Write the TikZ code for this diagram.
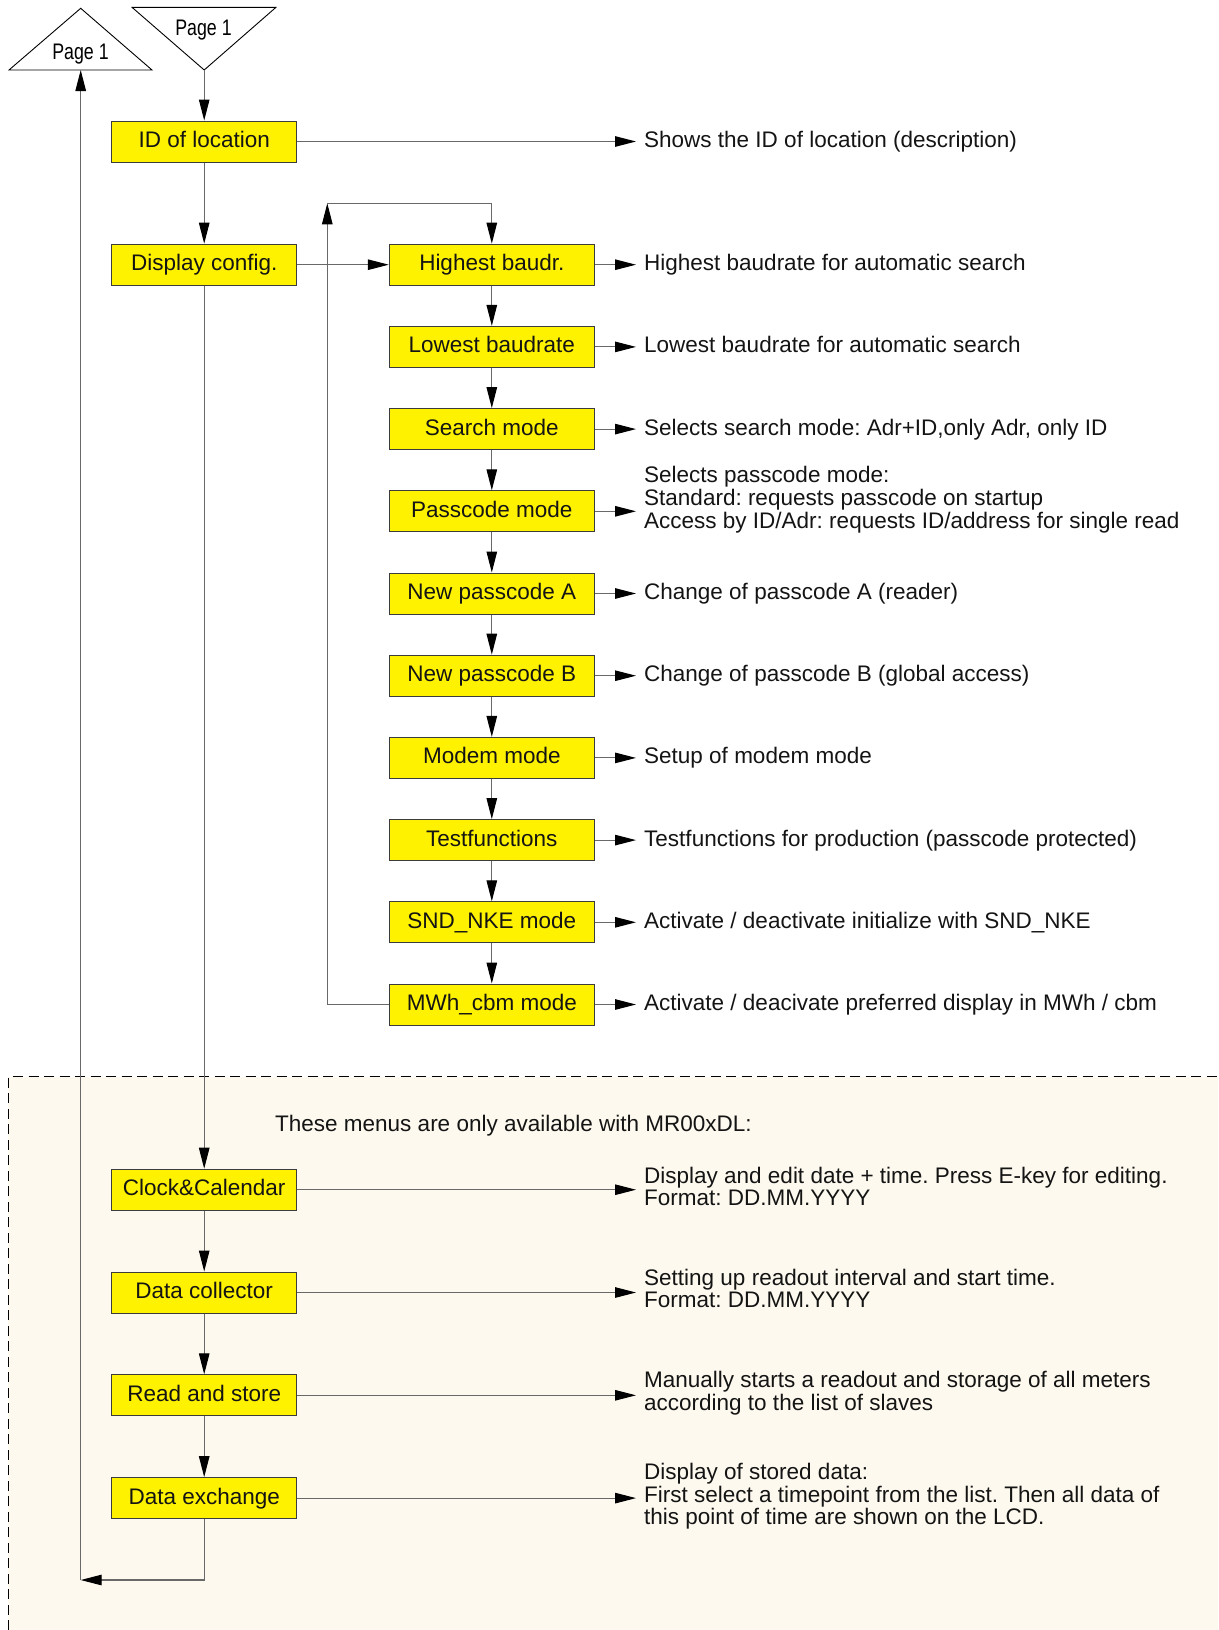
\documentclass[tikz,border=0pt]{standalone}
\usepackage{fontspec}
\setmainfont{Liberation Sans}
\usetikzlibrary{arrows.meta}
\definecolor{linegray}{RGB}{105,105,105}
\definecolor{boxline}{RGB}{60,60,60}
\definecolor{cream}{RGB}{253,249,238}
\definecolor{txt}{RGB}{20,20,20}
\frenchspacing
\newcommand{\mlines}[1]{\begin{tabular}[t]{@{}l@{}}#1\end{tabular}}
\begin{document}
\begin{tikzpicture}[x=1pt,y=-1pt,
  font=\fontsize{22.5}{21.7}\selectfont\frenchspacing,
  menubox/.style={draw=boxline,fill=yellow,line width=1pt,inner sep=0pt,minimum height=41pt,text=txt,text height=16.5pt,text depth=4.5pt},
  lbox/.style={menubox,minimum width=185pt},
  rbox/.style={menubox,minimum width=205pt},
  desc/.style={anchor=base west,inner xsep=8pt,inner ysep=0pt,text=txt},
  conn/.style={draw=linegray,line width=1.1pt},
  arr/.style={conn,-{Triangle[length=21pt,width=10.5pt,fill=black,color=black]}},
  pagetri/.style={draw=black,line width=0.9pt,fill=white}]
\useasboundingbox (0,0) rectangle (1218,1630);
% shaded region
\fill[cream] (8.3,1076.7) rectangle (1218,1630);
\draw[black,line width=1pt,dash pattern=on 10pt off 5.5pt] (8.3,1630) -- (8.3,1076.7) -- (1218,1076.7);
% page connectors
\draw[pagetri] (9,70) -- (80.7,8.3) -- (152,70) -- cycle;
\draw[pagetri] (132,7.3) -- (276,7.3) -- (204.2,70) -- cycle;
\node[anchor=base,inner sep=0pt] (pgL) at (80.5,59.3) {\scalebox{0.79}[1]{Page 1}};
\node[anchor=base,inner sep=0pt] (pgR) at (203.5,35) {\scalebox{0.79}[1]{Page 1}};
\coordinate (pgLbase) at (80.7,70);
\coordinate (pgRtip) at (204.2,70);
% left column
\node[lbox] (id) at (204.2,141.5) {ID of location};
\node[lbox] (dc) at (204.2,264.7) {Display config.};
\node[lbox] (cc) at (204.2,1189.7) {Clock\&Calendar};
\node[lbox] (dcol) at (204.2,1292.5) {Data collector};
\node[lbox] (rs) at (204.2,1395.3) {Read and store};
\node[lbox] (dx) at (204.2,1498.1) {Data exchange};
% right column
\node[rbox] (hb) at (491.8,264.7) {Highest baudr.};
\node[rbox] (lb) at (491.8,346.9) {Lowest baudrate};
\node[rbox] (sm) at (491.8,429.1) {Search mode};
\node[rbox] (pm) at (491.8,511.3) {Passcode mode};
\node[rbox] (pa) at (491.8,593.5) {New passcode A};
\node[rbox] (pb) at (491.8,675.7) {New passcode B};
\node[rbox] (mm) at (491.8,757.9) {Modem mode};
\node[rbox] (tf) at (491.8,840.1) {Testfunctions};
\node[rbox] (sn) at (491.8,922.3) {SND\_NKE mode};
\node[rbox] (mw) at (491.8,1004.5) {MWh\_cbm mode};
% descriptions
\node[desc] (did) at (636,147.2) {Shows the ID of location (description)};
\node[desc] (dhb) at (636,270.7) {Highest baudrate for automatic search};
\node[desc] (dlb) at (636,352.9) {Lowest baudrate for automatic search};
\node[desc] (dsm) at (636,435.1) {Selects search mode: Adr+ID,only Adr, only ID};
\node[desc] (dpm) at (636,482.7) {\mlines{Selects passcode mode:\\Standard: requests passcode on startup\\Access by ID/Adr: requests ID/address for single read}};
\node[desc] (dpa) at (636,599.5) {Change of passcode A (reader)};
\node[desc] (dpb) at (636,681.7) {Change of passcode B (global access)};
\node[desc] (dmm) at (636,763.9) {Setup of modem mode};
\node[desc] (dtf) at (636,846.1) {Testfunctions for production (passcode protected)};
\node[desc] (dsn) at (636,928.3) {Activate / deactivate initialize with SND\_NKE};
\node[desc] (dmw) at (636,1010.5) {Activate / deacivate preferred display in MWh / cbm};
\node[desc] (dcc) at (636,1183.3) {\mlines{Display and edit date + time. Press E-key for editing.\\Format: DD.MM.YYYY}};
\node[desc] (ddcol) at (636,1285) {\mlines{Setting up readout interval and start time.\\Format: DD.MM.YYYY}};
\node[desc] (drs) at (636,1387.7) {\mlines{Manually starts a readout and storage of all meters\\according to the list of slaves}};
\node[desc] (ddx) at (636,1479.3) {\mlines{Display of stored data:\\First select a timepoint from the list. Then all data of\\this point of time are shown on the LCD.}};
\node[anchor=base west,inner sep=0pt,text=txt] (note) at (275,1131.7) {These menus are only available with MR00xDL:};
% connectors
\draw[arr] (pgRtip) -- (id.north);
\draw[arr] (id.south) -- (dc.north);
\draw[arr] (dc.south) -- (cc.north);
\draw[arr] (cc.south) -- (dcol.north);
\draw[arr] (dcol.south) -- (rs.north);
\draw[arr] (rs.south) -- (dx.north);
\coordinate (ret) at (80.7,1580);
\draw[arr] (dx.south) |- (ret);
\draw[arr] (ret) -- (pgLbase);
\draw[arr] (dc.east) -- (hb.west);
\foreach \a/\b in {hb/lb,lb/sm,sm/pm,pm/pa,pa/pb,pb/mm,mm/tf,tf/sn,sn/mw}
  \draw[arr] (\a.south) -- (\b.north);
\coordinate (loop) at (327.3,203.3);
\draw[arr] (mw.west) -| (loop);
\draw[arr] (loop) -| (hb.north);
\draw[arr] (id.east) -- (id.east -| did.west);
\draw[arr] (hb.east) -- (hb.east -| dhb.west);
\draw[arr] (lb.east) -- (lb.east -| dlb.west);
\draw[arr] (sm.east) -- (sm.east -| dsm.west);
\draw[arr] (pm.east) -- (pm.east -| dpm.west);
\draw[arr] (pa.east) -- (pa.east -| dpa.west);
\draw[arr] (pb.east) -- (pb.east -| dpb.west);
\draw[arr] (mm.east) -- (mm.east -| dmm.west);
\draw[arr] (tf.east) -- (tf.east -| dtf.west);
\draw[arr] (sn.east) -- (sn.east -| dsn.west);
\draw[arr] (mw.east) -- (mw.east -| dmw.west);
\draw[arr] (cc.east) -- (cc.east -| dcc.west);
\draw[arr] (dcol.east) -- (dcol.east -| ddcol.west);
\draw[arr] (rs.east) -- (rs.east -| drs.west);
\draw[arr] (dx.east) -- (dx.east -| ddx.west);
\end{tikzpicture}
\end{document}
